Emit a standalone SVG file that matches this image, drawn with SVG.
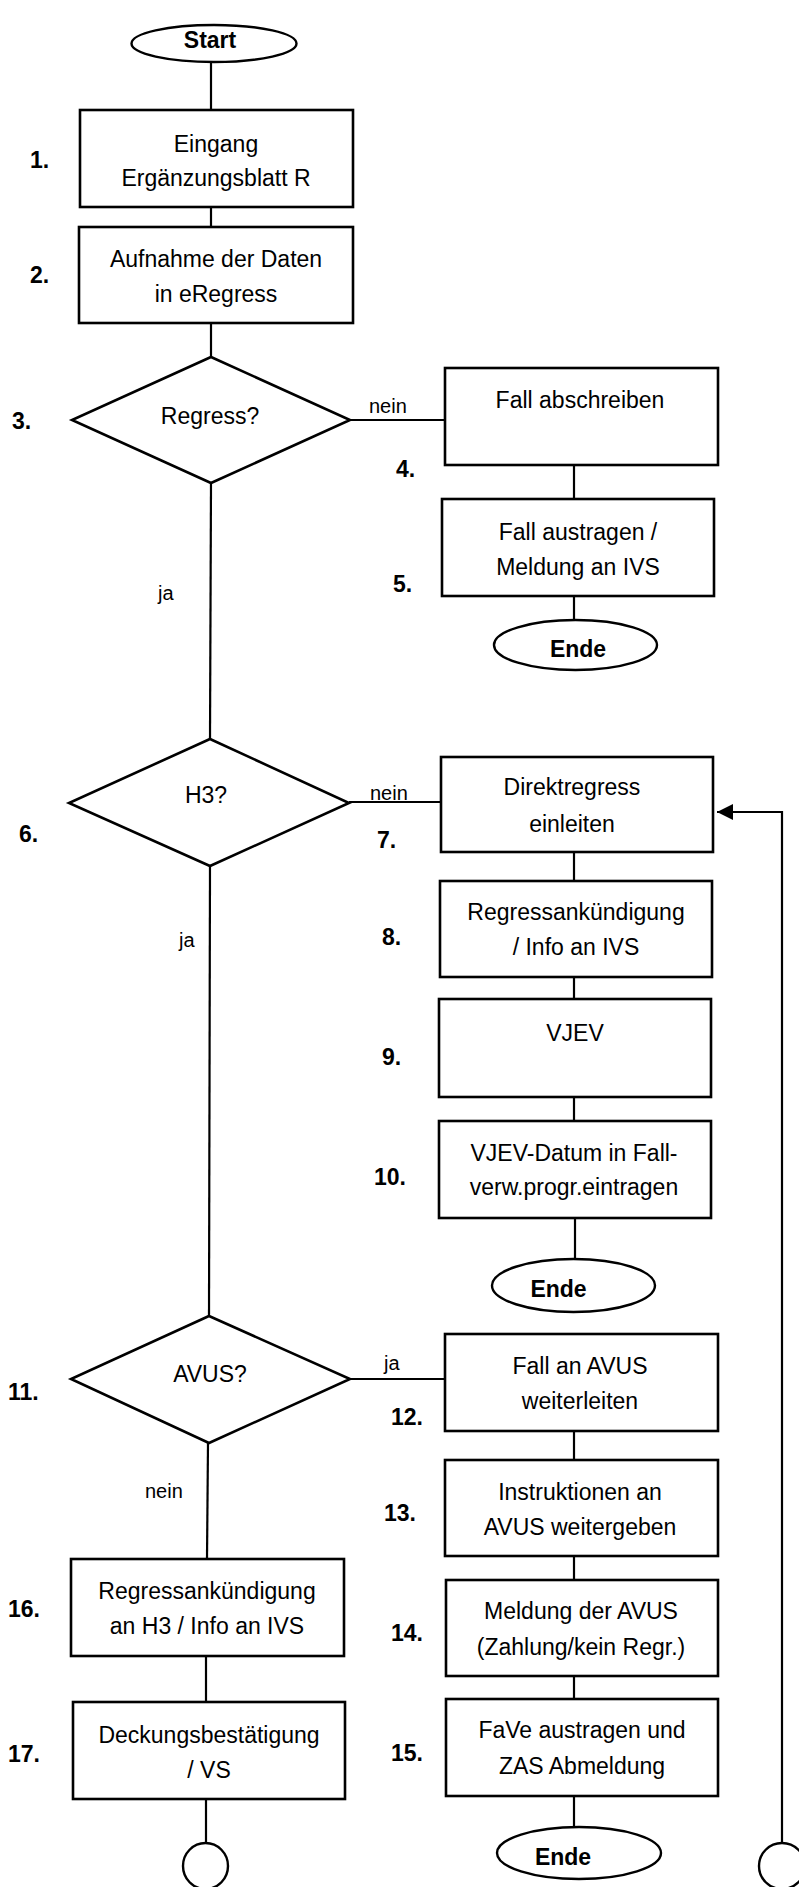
<svg xmlns="http://www.w3.org/2000/svg" width="799" height="1887" viewBox="0 0 799 1887">
<defs>
<style>
.box{fill:#fff;stroke:#000;stroke-width:2.6}
.term{fill:#fff;stroke:#000;stroke-width:2.4}
.ln{fill:none;stroke:#000;stroke-width:2.2}
.t{font-family:"Liberation Sans",Arial,sans-serif;font-size:23px;text-anchor:middle;fill:#000}
.b{font-family:"Liberation Sans",Arial,sans-serif;font-size:23px;font-weight:bold;fill:#000}
.bc{font-family:"Liberation Sans",Arial,sans-serif;font-size:23px;font-weight:bold;text-anchor:middle;fill:#000}
.s{font-family:"Liberation Sans",Arial,sans-serif;font-size:20px;fill:#000}
</style>
<marker id="arr" viewBox="0 0 10 10" refX="10" refY="5" markerWidth="16" markerHeight="16" markerUnits="userSpaceOnUse" orient="auto">
<path d="M0,0 L10,5 L0,10 z" fill="#000"/>
</marker>
</defs>
<rect width="799" height="1887" fill="#fff"/>
<g id="connectors">
<line class="ln" x1="211" y1="62" x2="211" y2="110"/>
<line class="ln" x1="211" y1="207" x2="211" y2="227"/>
<line class="ln" x1="211" y1="323" x2="211" y2="357"/>
<line class="ln" x1="350" y1="420" x2="445" y2="420"/>
<line class="ln" x1="574" y1="465" x2="574" y2="499"/>
<line class="ln" x1="574" y1="596" x2="574" y2="620"/>
<line class="ln" x1="211" y1="483" x2="210" y2="739"/>
<line class="ln" x1="349" y1="802" x2="441" y2="802"/>
<line class="ln" x1="574" y1="852" x2="574" y2="881"/>
<line class="ln" x1="574" y1="977" x2="574" y2="999"/>
<line class="ln" x1="574" y1="1097" x2="574" y2="1121"/>
<line class="ln" x1="575" y1="1218" x2="575" y2="1259"/>
<line class="ln" x1="210" y1="866" x2="209" y2="1316"/>
<line class="ln" x1="350" y1="1379" x2="445" y2="1379"/>
<line class="ln" x1="574" y1="1431" x2="574" y2="1460"/>
<line class="ln" x1="574" y1="1556" x2="574" y2="1580"/>
<line class="ln" x1="574" y1="1676" x2="574" y2="1699"/>
<line class="ln" x1="574" y1="1796" x2="574" y2="1827"/>
<line class="ln" x1="208" y1="1443" x2="207" y2="1559"/>
<line class="ln" x1="206" y1="1656" x2="206" y2="1702"/>
<line class="ln" x1="206" y1="1799" x2="206" y2="1843"/>
<polyline class="ln" points="782,1843 782,812 717,812" marker-end="url(#arr)"/>
<text class="s" x="369" y="413">nein</text>
<text class="s" x="158" y="600">ja</text>
<text class="s" x="370" y="800">nein</text>
<text class="s" x="179" y="947">ja</text>
<text class="s" x="384" y="1370">ja</text>
<text class="s" x="145" y="1498">nein</text>
</g>
<g id="start">
<ellipse class="term" cx="214" cy="43.5" rx="82.5" ry="18.5"/>
<text class="bc" x="210" y="48">Start</text>
</g>
<g id="n1">
<rect class="box" x="80" y="110" width="273" height="97"/>
<text class="t" x="216" y="152">Eingang</text>
<text class="t" x="216" y="186">Ergänzungsblatt R</text>
<text class="b" x="30" y="168">1.</text>
</g>
<g id="n2">
<rect class="box" x="79" y="227" width="274" height="96"/>
<text class="t" x="216" y="267">Aufnahme der Daten</text>
<text class="t" x="216" y="302">in eRegress</text>
<text class="b" x="30" y="283">2.</text>
</g>
<g id="n3">
<polygon class="box" points="211,357 350,420 211,483 72,420"/>
<text class="t" x="210" y="424">Regress?</text>
<text class="b" x="12" y="429">3.</text>
</g>
<g id="n4">
<rect class="box" x="445" y="368" width="273" height="97"/>
<text class="t" x="580" y="408">Fall abschreiben</text>
<text class="b" x="396" y="477">4.</text>
</g>
<g id="n5">
<rect class="box" x="442" y="499" width="272" height="97"/>
<text class="t" x="578" y="540">Fall austragen /</text>
<text class="t" x="578" y="575">Meldung an IVS</text>
<text class="b" x="393" y="592">5.</text>
</g>
<g id="ende1">
<ellipse class="term" cx="575.5" cy="645" rx="81.5" ry="25"/>
<text class="bc" x="578" y="657">Ende</text>
</g>
<g id="n6">
<polygon class="box" points="210,739 349,803 210,866 69,803"/>
<text class="t" x="206" y="803">H3?</text>
<text class="b" x="19" y="842">6.</text>
</g>
<g id="n7">
<rect class="box" x="441" y="757" width="272" height="95"/>
<text class="t" x="572" y="795">Direktregress</text>
<text class="t" x="572" y="832">einleiten</text>
<text class="b" x="377" y="848">7.</text>
</g>
<g id="n8">
<rect class="box" x="440" y="881" width="272" height="96"/>
<text class="t" x="576" y="920">Regressankündigung</text>
<text class="t" x="576" y="955">/ Info an IVS</text>
<text class="b" x="382" y="945">8.</text>
</g>
<g id="n9">
<rect class="box" x="439" y="999" width="272" height="98"/>
<text class="t" x="575" y="1041">VJEV</text>
<text class="b" x="382" y="1065">9.</text>
</g>
<g id="n10">
<rect class="box" x="439" y="1121" width="272" height="97"/>
<text class="t" x="574" y="1161">VJEV-Datum in Fall-</text>
<text class="t" x="574" y="1195">verw.progr.eintragen</text>
<text class="b" x="374" y="1185">10.</text>
</g>
<g id="ende2">
<ellipse class="term" cx="573.5" cy="1285.5" rx="81.5" ry="26.5"/>
<text class="bc" x="558.5" y="1297">Ende</text>
</g>
<g id="n11">
<polygon class="box" points="209,1316 350,1379 209,1443 71,1379"/>
<text class="t" x="210" y="1382">AVUS?</text>
<text class="b" x="8" y="1400">11.</text>
</g>
<g id="n12">
<rect class="box" x="445" y="1334" width="273" height="97"/>
<text class="t" x="580" y="1374">Fall an AVUS</text>
<text class="t" x="580" y="1409">weiterleiten</text>
<text class="b" x="391" y="1425">12.</text>
</g>
<g id="n13">
<rect class="box" x="445" y="1460" width="273" height="96"/>
<text class="t" x="580" y="1500">Instruktionen an</text>
<text class="t" x="580" y="1535">AVUS weitergeben</text>
<text class="b" x="384" y="1521">13.</text>
</g>
<g id="n14">
<rect class="box" x="446" y="1580" width="272" height="96"/>
<text class="t" x="581" y="1619">Meldung der AVUS</text>
<text class="t" x="581" y="1655">(Zahlung/kein Regr.)</text>
<text class="b" x="391" y="1641">14.</text>
</g>
<g id="n15">
<rect class="box" x="446" y="1699" width="272" height="97"/>
<text class="t" x="582" y="1738">FaVe austragen und</text>
<text class="t" x="582" y="1774">ZAS Abmeldung</text>
<text class="b" x="391" y="1761">15.</text>
</g>
<g id="ende3">
<ellipse class="term" cx="579" cy="1853" rx="82" ry="26"/>
<text class="bc" x="563" y="1865">Ende</text>
</g>
<g id="n16">
<rect class="box" x="71" y="1559" width="273" height="97"/>
<text class="t" x="207" y="1599">Regressankündigung</text>
<text class="t" x="207" y="1634">an H3 / Info an IVS</text>
<text class="b" x="8" y="1617">16.</text>
</g>
<g id="n17">
<rect class="box" x="73" y="1702" width="272" height="97"/>
<text class="t" x="209" y="1743">Deckungsbestätigung</text>
<text class="t" x="209" y="1778">/ VS</text>
<text class="b" x="8" y="1762">17.</text>
</g>
<g id="conn-left">
<ellipse class="term" cx="205.5" cy="1866" rx="22.5" ry="23"/>
</g>
<g id="conn-right">
<ellipse class="term" cx="782" cy="1866" rx="23" ry="23"/>
</g>
</svg>
